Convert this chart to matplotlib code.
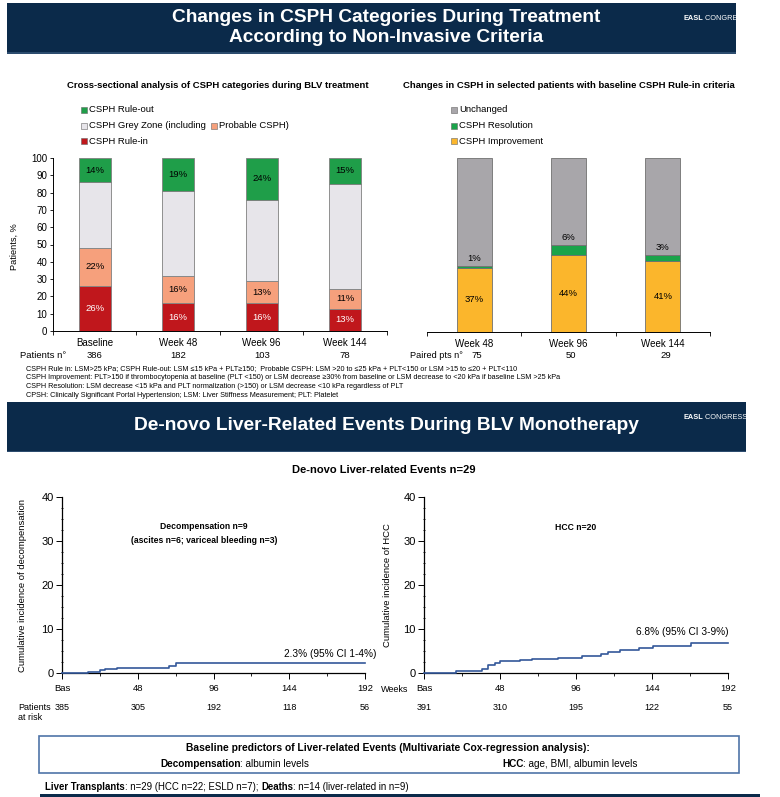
import numpy as np
import matplotlib
matplotlib.use('Agg')
import matplotlib.pyplot as plt
from matplotlib.patches import Rectangle
from matplotlib.text import Annotation
from matplotlib.transforms import blended_transform_factory as blend

# ---- data ----
weeks_a = ['Baseline', 'Week 48', 'Week 96', 'Week 144']
patients_a = [386, 182, 103, 78]
rule_in = [26, 16, 16, 13]
probable = [22, 16, 13, 11]
grey_zone = [38, 49, 47, 61]
rule_out = [14, 19, 24, 15]

weeks_b = ['Week 48', 'Week 96', 'Week 144']
paired_b = [75, 50, 29]
improvement = [37, 44, 41]
resolution = [1, 6, 3]
unchanged = [62, 50, 56]

km_ticks = [0, 48, 96, 144, 192]
km_ticklabels = ['Bas', '48', '96', '144', '192']
dec_t = [0, 16.5, 24, 27.5, 35, 68, 72, 192]
dec_v = [0, 0.2, 0.6, 0.9, 1.2, 1.6, 2.2, 2.2]
dec_risk = [385, 305, 192, 118, 56]
hcc_t = [0, 20.5, 36.5, 40.5, 44.7, 48.3, 60.5, 68.4, 84.4, 100, 112, 116, 124,
         136, 144.5, 168.6, 192]
hcc_v = [0, 0.45, 0.8, 1.9, 2.35, 2.65, 2.9, 3.2, 3.5, 3.95, 4.4, 4.8, 5.2,
         5.7, 6.2, 6.75, 6.75]
hcc_risk = [391, 310, 195, 122, 55]

# ---- fonts ----
plt.rcParams['font.family'] = ['Liberation Sans', 'DejaVu Sans']

NAVY = '#0b2a4a'
W, H = 780, 797


def fx(x):
    return x / W


def fy(y):
    return 1 - y / H


def box(x0, y0, x1, y1):
    return [fx(x0), fy(y1), (x1 - x0) / W, (y1 - y0) / H]


fig = plt.figure(figsize=(W / 100, H / 100), dpi=100)
fig.patch.set_facecolor('white')


def rect(x0, y0, x1, y1, **kw):
    r = Rectangle((fx(x0), fy(y1)), (x1 - x0) / W, (y1 - y0) / H,
                  transform=fig.transFigure, **kw)
    fig.patches.append(r)
    return r


def chain(prev, s, **kw):
    a = Annotation(s, xy=(1, 0.5), xycoords=prev, ha='left', va='center', **kw)
    fig.add_artist(a)
    return a


def header(y0, y1, x1, lines, ys, size):
    hr = rect(7, y0, x1, y1, facecolor=NAVY, edgecolor='none')
    rect(7, y1 - 1.5, x1, y1, facecolor='#2c4c6e', edgecolor='none')
    for s, y in zip(lines, ys):
        fig.text(fx(386), fy(y), s, color='white', fontsize=size,
                 fontweight='bold', ha='center', va='center')
    t = fig.text(fx(683), fy(y0 + 15), 'EASL', color='white', fontsize=5.3,
                 fontweight='bold', va='center')
    t2 = chain(t, ' CONGRESS', color='white', fontsize=5.3)
    t2.set_clip_path(hr)


header(3, 54, 736, ['Changes in CSPH Categories During Treatment',
                    'According to Non-Invasive Criteria'], [17, 37], 13.8)
header(402, 452, 746, ['De-novo Liver-Related Events During BLV Monotherapy'],
       [426], 13.8)

# ---- subtitles & legends ----
fig.text(fx(218), fy(85), 'Cross-sectional analysis of CSPH categories during BLV treatment',
         fontsize=6.8, fontweight='bold', ha='center', va='center')
fig.text(fx(569), fy(85), 'Changes in CSPH in selected patients with baseline CSPH Rule-in criteria',
         fontsize=6.8, fontweight='bold', ha='center', va='center')

c_out, c_grey, c_prob, c_in = '#1f9e49', '#e7e5ea', '#f6a07c', '#c0171c'
c_unch, c_res, c_imp = '#a8a6aa', '#1aa34a', '#fbb62c'


def leg(x, y, color, label):
    rect(x, y - 3, x + 6, y + 3, facecolor=color, edgecolor='#666666', lw=0.4)
    return fig.text(fx(x + 8), fy(y), label, fontsize=6.8, va='center')


leg(81, 110, c_out, 'CSPH Rule-out')
leg(81, 126, c_grey, 'CSPH Grey Zone (including')
leg(211, 126, c_prob, 'Probable CSPH)')
leg(81, 141, c_in, 'CSPH Rule-in')
leg(451, 110, c_unch, 'Unchanged')
leg(451, 126, c_res, 'CSPH Resolution')
leg(451, 141, c_imp, 'CSPH Improvement')

# ---- left stacked bars ----
ax1 = fig.add_axes(box(53, 158, 387, 331))
xa = np.arange(len(weeks_a))
bottom = np.zeros(len(xa))
for vals, col, lab_col in [(rule_in, c_in, 'white'), (probable, c_prob, 'black'),
                           (grey_zone, c_grey, None), (rule_out, c_out, 'black')]:
    ax1.bar(xa, vals, width=0.38, bottom=bottom, color=col, edgecolor='#808080', lw=0.6)
    if lab_col:
        for xi, b, v in zip(xa, bottom, vals):
            ax1.text(xi, b + v / 2, f'{v}%', ha='center', va='center',
                     fontsize=6.8, color=lab_col)
    bottom += np.array(vals)
ax1.set_xlim(-0.5, 3.5)
ax1.set_ylim(0, 100)
ax1.set_yticks(range(0, 101, 10))
ax1.set_xticks(xa, weeks_a)
ax1.set_xticks(np.arange(-0.5, 3.6, 1), minor=True)
ax1.tick_params(axis='x', which='major', length=0, pad=5, labelsize=7)
ax1.tick_params(axis='x', which='minor', length=3, width=0.6)
ax1.tick_params(axis='y', length=2.5, width=0.6, pad=1.5, labelsize=7)
for s in ['top', 'right']:
    ax1.spines[s].set_visible(False)
for s in ['left', 'bottom']:
    ax1.spines[s].set_linewidth(0.7)
ax1.set_ylabel('Patients, %', fontsize=6.6)
ax1.yaxis.set_label_coords(-0.102, 0.485)
fig.text(fx(20), fy(355), 'Patients n°', fontsize=6.8, va='center')
tr1 = blend(ax1.transData, fig.transFigure)
for xi, n in zip(xa, patients_a):
    ax1.text(xi, fy(355), str(n), transform=tr1, ha='center', va='center', fontsize=6.8)

# ---- right stacked bars ----
ax2 = fig.add_axes(box(427, 158, 710, 332))
xb = np.arange(len(weeks_b))
b1 = np.array(improvement)
b2 = b1 + np.array(resolution)
ax2.bar(xb, improvement, width=0.37, color=c_imp, edgecolor='#707070', lw=0.6)
ax2.bar(xb, resolution, width=0.37, bottom=b1, color=c_res, edgecolor='#707070', lw=0.6)
ax2.bar(xb, unchanged, width=0.37, bottom=b2, color=c_unch, edgecolor='#707070', lw=0.6)
for xi, v in zip(xb, improvement):
    ax2.text(xi, v / 2, f'{v}%', ha='center', va='center', fontsize=6.8)
for xi, top, v in zip(xb, b2, resolution):
    ax2.text(xi, top + 4.5, f'{v}%', ha='center', va='center', fontsize=6.8)
ax2.set_xlim(-0.5, 2.5)
ax2.set_ylim(0, 100)
ax2.set_yticks([])
ax2.set_xticks(xb, weeks_b)
ax2.set_xticks(np.arange(-0.5, 2.6, 1), minor=True)
ax2.tick_params(axis='x', which='major', length=0, pad=5, labelsize=7)
ax2.tick_params(axis='x', which='minor', length=3, width=0.6)
for s in ['top', 'right', 'left']:
    ax2.spines[s].set_visible(False)
ax2.spines['bottom'].set_linewidth(0.7)
fig.text(fx(410), fy(355), 'Paired pts n°', fontsize=6.6, va='center')
tr2 = blend(ax2.transData, fig.transFigure)
for xi, n in zip(xb, paired_b):
    ax2.text(xi + 0.03, fy(355), str(n), transform=tr2, ha='center', va='center', fontsize=6.8)

# ---- footnotes ----
notes = [
    'CSPH Rule in: LSM>25 kPa; CSPH Rule-out: LSM ≤15 kPa + PLT≥150;  Probable CSPH: LSM >20 to ≤25 kPa + PLT<150 or LSM >15 to ≤20 + PLT<110',
    'CSPH Improvement: PLT>150 if thrombocytopenia at baseline (PLT <150) or LSM decrease ≥30% from baseline or LSM decrease to <20 kPa if baseline LSM >25 kPa',
    'CSPH Resolution: LSM decrease <15 kPa and PLT normalization (>150) or LSM decrease <10 kPa regardless of PLT',
    'CPSH: Clinically Significant Portal Hypertension; LSM: Liver Stiffness Measurement; PLT: Platelet',
]
for s, y in zip(notes, [369, 378, 386, 395]):
    fig.text(fx(26), fy(y), s, fontsize=5.2, va='center')

# ---- KM panels ----
fig.text(fx(384), fy(470), 'De-novo Liver-related Events n=29', fontsize=8,
         fontweight='bold', ha='center', va='center')


def km(rect_px, t, v, risk, ylab, ylab_x):
    ax = fig.add_axes(box(*rect_px))
    ax.step(t, v, where='post', color='#34589a', lw=1.2, clip_on=False, zorder=3)
    ax.set_xlim(0, 192)
    ax.set_ylim(0, 40)
    ax.set_xticks(km_ticks, km_ticklabels)
    ax.set_xticks([24, 72, 120, 168], minor=True)
    ax.set_yticks(range(0, 41, 10))
    ax.set_yticks(np.arange(0, 40.1, 2.5), minor=True)
    ax.tick_params(axis='x', which='major', length=4, width=0.7, pad=4, labelsize=6.8)
    ax.tick_params(axis='x', which='minor', length=2.5, width=0.6)
    ax.tick_params(axis='y', which='major', length=4, width=0.7, pad=2, labelsize=8)
    ax.tick_params(axis='y', which='minor', length=2, width=0.6, direction='inout')
    for s in ['top', 'right']:
        ax.spines[s].set_visible(False)
    for s in ['left', 'bottom']:
        ax.spines[s].set_linewidth(0.9)
    ax.set_ylabel(ylab, fontsize=6.8)
    ax.yaxis.set_label_coords(ylab_x, 0.5)
    tr = blend(ax.transData, fig.transFigure)
    for xt, n in zip(km_ticks, risk):
        ax.text(xt, fy(708), str(n), transform=tr, ha='center', va='center', fontsize=6.5)
    return ax


ax3 = km((62, 497, 365, 673), dec_t, dec_v, dec_risk,
         'Cumulative incidence of decompensation', -0.115)
ax4 = km((424, 497, 728, 673), hcc_t, hcc_v, hcc_risk,
         'Cumulative incidence of HCC', -0.105)
ax3.text(90, 33.2, 'Decompensation n=9', ha='center', va='center',
         fontsize=6.2, fontweight='bold')
ax3.text(90, 30.2, '(ascites n=6; variceal bleeding n=3)', ha='center', va='center',
         fontsize=6.2, fontweight='bold')
ax3.text(199, 4.3, '2.3% (95% CI 1-4%)', ha='right', va='center', fontsize=7.3)
ax4.text(96, 33, 'HCC n=20', ha='center', va='center', fontsize=6.2, fontweight='bold')
ax4.text(192, 9.3, '6.8% (95% CI 3-9%)', ha='right', va='center', fontsize=7.3)
fig.text(fx(395), fy(689), 'Weeks', ha='center', va='center', fontsize=6.5)
fig.text(fx(18), fy(708), 'Patients', va='center', fontsize=6.5)
fig.text(fx(18), fy(718), 'at risk', va='center', fontsize=6.5)

# ---- bottom box ----
rect(39, 736, 739, 773, facecolor='none', edgecolor='#4f74a8', lw=1.2)
fig.text(fx(388), fy(748), 'Baseline predictors of Liver-related Events (Multivariate Cox-regression analysis):',
         fontsize=7.4, fontweight='bold', ha='center', va='center')
t = fig.text(fx(160), fy(764), 'Decompensation', fontsize=7.2, fontweight='bold', va='center')
chain(t, ': albumin levels', fontsize=7.2)
t = fig.text(fx(502), fy(764), 'HCC', fontsize=7.2, fontweight='bold', va='center')
chain(t, ': age, BMI, albumin levels', fontsize=7.2)
t = fig.text(fx(45), fy(787), 'Liver Transplants', fontsize=6.9, fontweight='bold', va='center')
t = chain(t, ': n=29 (HCC n=22; ESLD n=7); ', fontsize=6.9)
t = chain(t, 'Deaths', fontsize=6.9, fontweight='bold')
chain(t, ': n=14 (liver-related in n=9)', fontsize=6.9)
rect(40, 794, 760, 797, facecolor=NAVY, edgecolor='none')

fig.savefig('out.png', dpi=100)
